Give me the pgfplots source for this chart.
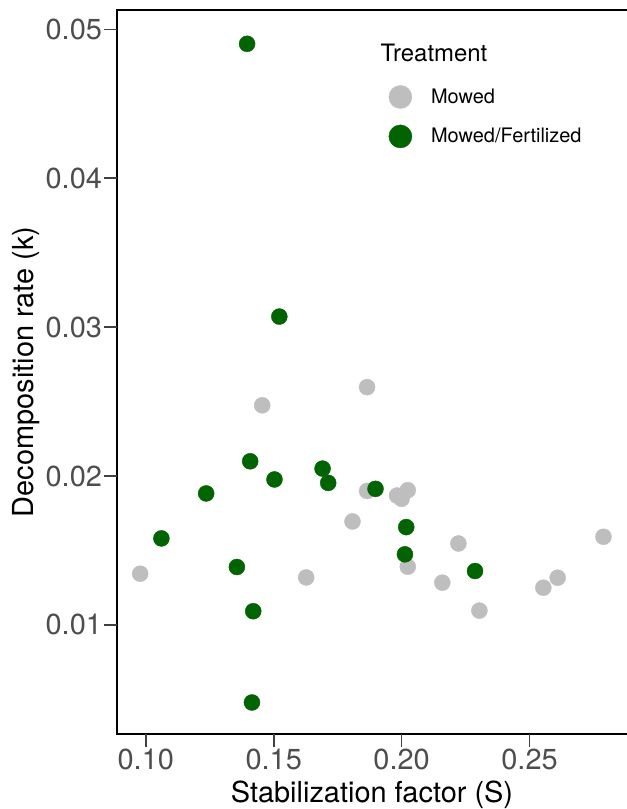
\documentclass[border=0pt]{standalone}
\usepackage{fontspec}
\setmainfont{TeX Gyre Heros}
\usepackage{pgfplots}
\pgfplotsset{compat=1.18}
\definecolor{mowgray}{RGB}{190,190,190}
\definecolor{fertgreen}{RGB}{0,100,0}
\definecolor{ticktext}{RGB}{77,77,77}

\begin{document}
\begin{tikzpicture}
\begin{axis}[width=511bp,height=723bp,scale only axis,clip=false,
  xmin=0.0888,xmax=0.2888,ymin=0.00268,ymax=0.0513,
  axis line style={line width=2.5bp,black},
  xtick={0.10,0.15,0.20,0.25},ytick={0.01,0.02,0.03,0.04,0.05},
  scaled x ticks=false,scaled y ticks=false,
  tick label style={font=\fontsize{29}{33}\selectfont,color=ticktext,
    /pgf/number format/assume math mode=true,
    /pgf/number format/fixed,/pgf/number format/fixed zerofill,
    /pgf/number format/precision=2},
  xticklabel style={inner sep=2bp},
  yticklabel style={inner sep=2bp},
  xtick pos=bottom,ytick pos=left,tick align=outside,
  major tick length=13bp,
  tick style={line width=1.6bp,black!75},
  xlabel={Stabilization factor (S)},
  ylabel={Decomposition rate (k)},
  every axis x label/.style={at={(axis description cs:0.4981,0)},anchor=base,yshift=-69bp,
    font=\fontsize{29}{34}\selectfont,black},
  every axis y label/.style={at={(axis description cs:-0.1644,0.5)},anchor=base,rotate=90,
    font=\fontsize{29}{34}\selectfont,black},
  legend image code/.code={\fill[#1] (11.5bp,0bp) circle (11.5bp);},
  legend style={draw=none,fill=none,inner sep=0pt,
    at={(axis description cs:0.5303,0.8963)},anchor=north west,
    font=\fontsize{20}{24}\selectfont,column sep=17bp,row sep=16bp},
  legend cell align=left]
% Mowed
\addplot[only marks,mark=*,mark size=8bp,color=mowgray] coordinates {
(0.1455,0.02475) (0.1865,0.02597) (0.1865,0.01900) (0.1982,0.01869)
(0.2024,0.01905) (0.2000,0.01847) (0.1808,0.01695) (0.2222,0.01547)
(0.2789,0.01592) (0.2024,0.01391) (0.2159,0.01284) (0.2304,0.01096)
(0.2554,0.01250) (0.2610,0.01317) (0.1627,0.01319) (0.0978,0.01344)};
\addlegendentry{Mowed}
% Mowed/Fertilized
\addplot[only marks,mark=*,mark size=8bp,color=fertgreen] coordinates {
(0.1408,0.02099) (0.1503,0.01977) (0.1236,0.01883) (0.1691,0.02050)
(0.1713,0.01954) (0.1898,0.01914) (0.2018,0.01657) (0.2013,0.01474)
(0.2287,0.01362) (0.1061,0.01581) (0.1356,0.01389) (0.1420,0.01092)
(0.1415,0.00479) (0.1522,0.03071) (0.1396,0.04903)};
\addlegendentry{Mowed/Fertilized}
\node[anchor=base west,inner sep=0pt,font=\fontsize{24}{28}\selectfont]
  at (axis description cs:0.5147,0.9295) {Treatment};
% outside tick marks
\pgfplotsinvokeforeach{0.10,0.15,0.20,0.25}{
  \draw[line width=1.6bp,black!75] (axis cs:#1,0.00268) -- ++(0bp,-13bp);}
\pgfplotsinvokeforeach{0.01,0.02,0.03,0.04,0.05}{
  \draw[line width=1.6bp,black!75] (axis cs:0.0888,#1) -- ++(-13bp,0bp);}
\end{axis}
\pgfresetboundingbox
\path ([xshift=-117bp,yshift=-75bp]current axis.south west) rectangle ([xshift=-2bp,yshift=10bp]current axis.north east);
\end{tikzpicture}
\end{document}
